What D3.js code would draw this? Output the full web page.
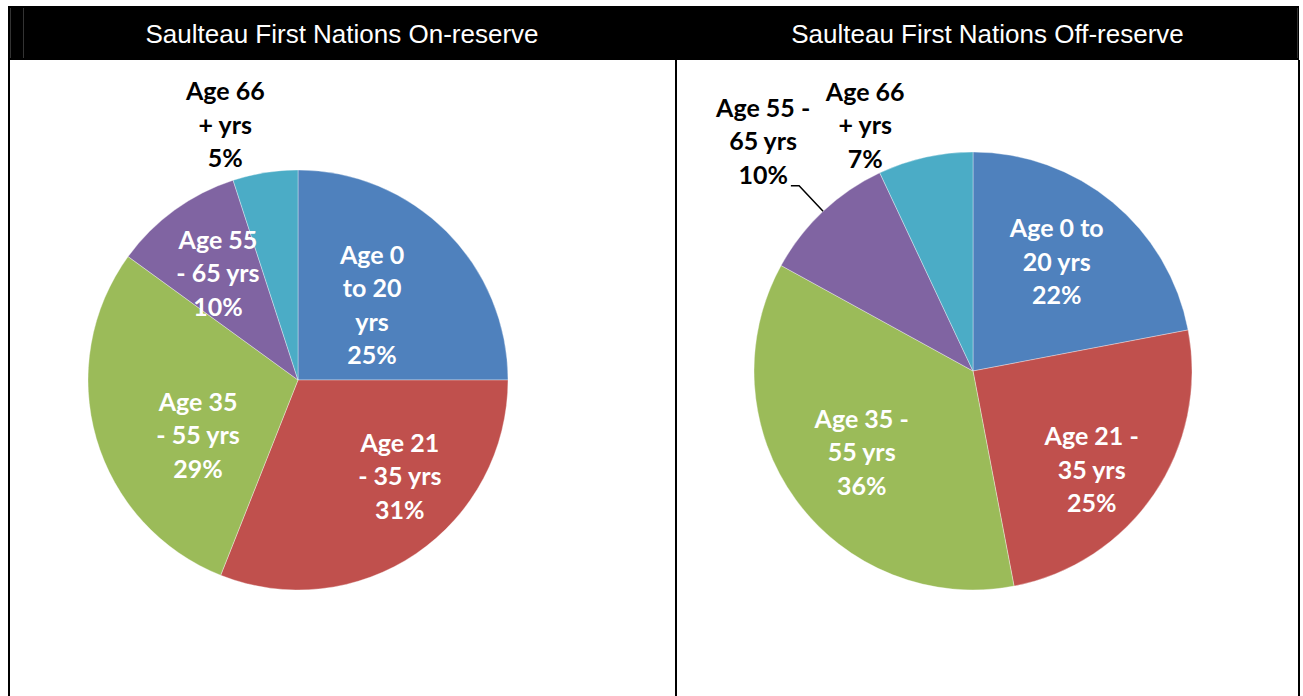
<!DOCTYPE html>
<html>
<head>
<meta charset="utf-8">
<script src="https://cdn.jsdelivr.net/npm/d3@7"></script>
<style>
  body { margin: 0; background: #fff; }
  svg { display: block; }
</style>
</head>
<body>
<div id="chart"></div>
<script>
// data
var categories = ["Age 0 to 20 yrs", "Age 21 - 35 yrs", "Age 35 - 55 yrs", "Age 55 - 65 yrs", "Age 66 + yrs"];
var onReserve = [25, 31, 29, 10, 5];
var offReserve = [22, 25, 36, 10, 7];
var onLabels = [["Age 0", "to 20", "yrs"], ["Age 21", "- 35 yrs"], ["Age 35", "- 55 yrs"], ["Age 55", "- 65 yrs"], ["Age 66", "+ yrs"]];
var offLabels = [["Age 0 to", "20 yrs"], ["Age 21 -", "35 yrs"], ["Age 35 -", "55 yrs"], ["Age 55 -", "65 yrs"], ["Age 66", "+ yrs"]];
var titles = ["Saulteau First Nations On-reserve", "Saulteau First Nations Off-reserve"];

var colors = ["#4F81BD", "#C0504D", "#9BBB59", "#8064A2", "#4BACC6"];

var W = 1303, H = 696;
var svg = d3.select("#chart").append("svg")
    .attr("width", W)
    .attr("height", H);

// frame
svg.append("rect").attr("x", 8).attr("y", 6).attr("width", 1291).attr("height", 54).attr("fill", "#000");
svg.append("line").attr("x1", 10.5).attr("x2", 10.5).attr("y1", 8).attr("y2", 58).attr("stroke", "#333").attr("stroke-width", 1);
svg.append("line").attr("x1", 23.5).attr("x2", 23.5).attr("y1", 8).attr("y2", 58).attr("stroke", "#333").attr("stroke-width", 1);
svg.append("line").attr("x1", 1297.5).attr("x2", 1297.5).attr("y1", 8).attr("y2", 58).attr("stroke", "#333").attr("stroke-width", 1);
[9, 676, 1299].forEach(function(x) {
  svg.append("line").attr("x1", x).attr("x2", x).attr("y1", 60).attr("y2", H)
    .attr("stroke", "#000").attr("stroke-width", 2);
});

// panels: layout only
var panels = [
  {title: titles[0], x0: 8, x1: 676, cx: 298, cy: 380, r: 210, values: onReserve, labels: onLabels,
   labelR: [0.6, 0.6, 0.6, 0.6, 1.27], outside: [false, false, false, false, true],
   nudge: [[-15, 13], [31, -9], [21, 19], [-6, -6], [-31, 7]], leader: [false, false, false, false, false]},
  {title: titles[1], x0: 676, x1: 1299, cx: 973, cy: 371, r: 219, values: offReserve, labels: offLabels,
   labelR: [0.6, 0.6, 0.6, 1.42, 1.23], outside: [false, false, false, true, true],
   nudge: [[0, -9], [10, 24], [-5, 3], [3, -4], [-49, 16]], leader: [false, false, false, true, false]}
];

var lineH = 33.5;
var pie = d3.pie().sort(null).value(function(d) { return d; });

panels.forEach(function(p) {
  svg.append("text")
    .attr("x", (p.x0 + p.x1) / 2)
    .attr("y", 34)
    .attr("text-anchor", "middle")
    .attr("dominant-baseline", "central")
    .style("font-family", "'Liberation Sans', Arial, sans-serif")
    .style("font-size", "26px")
    .attr("fill", "#fff")
    .text(p.title);

  var g = svg.append("g").attr("transform", "translate(" + p.cx + "," + p.cy + ")");
  var arcs = pie(p.values);
  var arc = d3.arc().innerRadius(0).outerRadius(p.r);

  g.selectAll("path.slice")
    .data(arcs)
    .enter()
    .append("path")
      .attr("class", "slice")
      .attr("d", arc)
      .attr("fill", function(d, i) { return colors[i]; })
      .attr("stroke", "rgba(255,255,255,0.5)")
      .attr("stroke-width", 0.7);

  arcs.forEach(function(d, i) {
    var k = p.labelR[i] * p.r;
    var c = d3.arc().innerRadius(k).outerRadius(k).centroid(d);
    var lx = c[0] + p.nudge[i][0], ly = c[1] + p.nudge[i][1];
    var lines = p.labels[i].concat([p.values[i] + "%"]);
    var t = g.append("text")
      .attr("text-anchor", "middle")
      .style("font-family", "Lato, 'Open Sans', sans-serif")
      .style("font-weight", "bold")
      .style("font-size", "25px")
      .attr("fill", p.outside[i] ? "#000" : "#fff");
    var last;
    lines.forEach(function(s, j) {
      last = t.append("tspan")
        .attr("x", lx)
        .attr("y", ly + (j - (lines.length - 1) / 2) * lineH)
        .attr("dominant-baseline", "central")
        .text(s);
    });

    if (p.leader[i]) {
      var a = (d.startAngle + d.endAngle) / 2;
      var start = [Math.sin(a) * p.r, -Math.cos(a) * p.r];
      var elbow = [Math.sin(a) * p.r * 1.16, -Math.cos(a) * p.r * 1.16];
      var lastW = last.node().getComputedTextLength();
      g.append("path")
        .attr("d", d3.line()([start, elbow, [lx + lastW / 2 + 3, elbow[1]]]))
        .attr("fill", "none")
        .attr("stroke", "#000")
        .attr("stroke-width", 1.5);
    }
  });
});
</script>
</body>
</html>
